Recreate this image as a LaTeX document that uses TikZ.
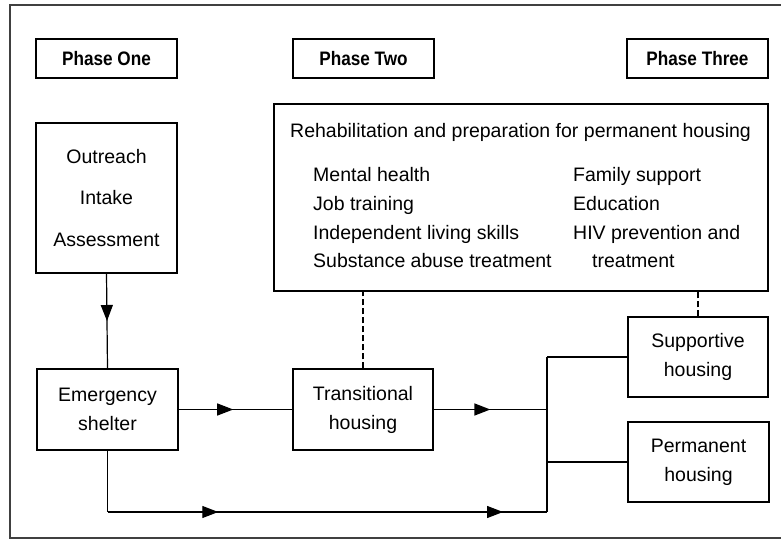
\documentclass[tikz,border=0pt]{standalone}
\usepackage{fontspec}
\setmainfont{Liberation Sans}
\newfontfamily\phasefamily[FakeStretch=0.88]{Liberation Sans}
\usetikzlibrary{arrows.meta,decorations.markings}
\tikzset{
  tri/.tip={Triangle[length=16pt,width=12pt]},
  box/.style={draw, line width=1.3pt, inner sep=0pt, align=center,
    font=\fontsize{19.5}{29}\selectfont},
  phasebox/.style={box, minimum width=141pt, minimum height=39pt,
    font=\phasefamily\bfseries\fontsize{19.5}{23}\selectfont},
  item/.style={anchor=base west, inner sep=0pt, font=\fontsize{19.5}{23}\selectfont},
  conn/.style={line width=1.2pt},
  dashconn/.style={line width=1.1pt, dash pattern=on 6pt off 3pt},
  midarrow/.style={postaction={decorate}, decoration={markings,
    mark=at position #1 with {\arrow{tri}}}},
  twoarrows/.style 2 args={postaction={decorate}, decoration={markings,
    mark=at position #1 with {\arrow{tri}},
    mark=at position #2 with {\arrow{tri}}}},
}
\begin{document}
\begin{tikzpicture}[x=1pt,y=-1pt]
\useasboundingbox (0,0) rectangle (781,540);
% outer frame (open on the right)
\draw[line width=1.4pt, black!75] (781,5) -- (10,5) -- (10,538) -- (781,538);

% phase labels
\node[phasebox] (p1) at (106.5,58.5) {Phase One};
\node[phasebox] (p2) at (363.5,58.5) {Phase Two};
\node[phasebox] (p3) at (697.5,58.5) {Phase Three};

% boxes
\node[box, minimum width=141pt, minimum height=150pt,
  font=\fontsize{19.5}{41.5}\selectfont] (out) at (106.5,198) {Outreach\\Intake\\Assessment};
\node[box, minimum width=494pt, minimum height=187pt] (rehab) at (521,197.5) {};
\node[box, minimum width=141pt, minimum height=81pt] (shelter) at (107.5,409.5) {Emergency\\shelter};
\node[box, minimum width=140pt, minimum height=81pt] (trans) at (363,409.5) {Transitional\\housing};
\node[box, minimum width=140pt, minimum height=80pt] (supp) at (698,357) {Supportive\\housing};
\node[box, minimum width=141pt, minimum height=80pt] (perm) at (698.5,462) {Permanent\\housing};

% rehab texts
\node[item] (rt) at (290,138) {Rehabilitation and preparation for permanent housing};
\node[item] (l1) at (313,182) {Mental health};
\node[item] (l2) at (313,210.5) {Job training};
\node[item] (l3) at (313,239) {Independent living skills};
\node[item] (l4) at (313,267.5) {Substance abuse treatment};
\node[item] (r1) at (573,182) {Family support};
\node[item] (r2) at (573,210.5) {Education};
\node[item] (r3) at (573,239) {HIV prevention and};
\node[item] (r4) at (592,267.5) {treatment};

% junction coordinates
\coordinate (jtop) at (547,357);
\coordinate (jin) at (547,409.5);
\coordinate (jmid) at (547,462);
\coordinate (jbot) at (547,512);
\coordinate (corner) at (107.5,512);

% connectors
\draw[conn, midarrow=0.5] (out.south) -- (shelter.north);
\draw[conn, midarrow=0.48] (shelter.east) -- (trans.west);
\draw[conn, line width=1.6pt, midarrow=0.5] (trans.east) -- (jin);
\draw[conn] (shelter.south) -- (corner);
\draw[conn, twoarrows={0.252}{0.9}] (corner) -- (jbot);
\draw[conn] (jbot) -- (jtop);
\draw[conn] (jtop) -- (supp.west);
\draw[conn] (jmid) -- (perm.west);

% dashed links
\draw[dashconn] (trans.north) -- (trans.north |- rehab.south);
\draw[dashconn] (supp.north) -- (supp.north |- rehab.south);
\end{tikzpicture}
\end{document}
